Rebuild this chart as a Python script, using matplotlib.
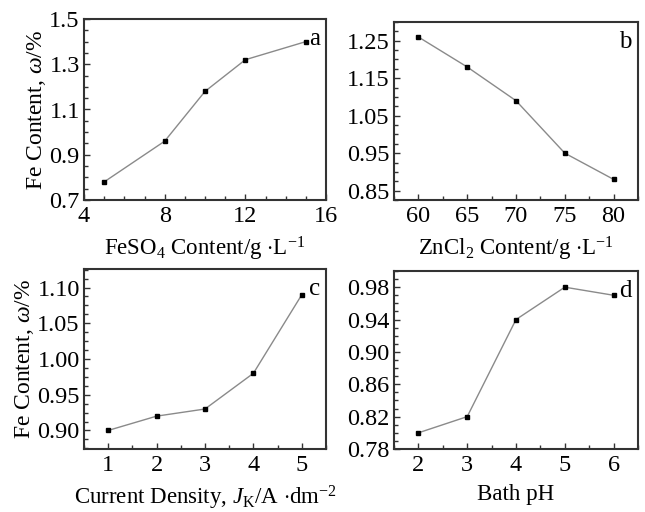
import matplotlib
matplotlib.use("Agg")
import matplotlib.pyplot as plt
from matplotlib.ticker import MultipleLocator

plt.rcParams['font.family'] = ['Liberation Serif', 'DejaVu Serif']
plt.rcParams['mathtext.fontset'] = 'custom'
plt.rcParams['mathtext.rm'] = 'Liberation Serif'
plt.rcParams['mathtext.it'] = 'Liberation Serif:italic'

# Data
feso4_x = [5, 8, 10, 12, 15]
feso4_y = [0.78, 0.96, 1.18, 1.32, 1.40]
zncl2_x = [60, 65, 70, 75, 80]
zncl2_y = [1.26, 1.18, 1.09, 0.95, 0.88]
cd_x = [1, 2, 3, 4, 5]
cd_y = [0.90, 0.92, 0.93, 0.98, 1.09]
ph_x = [2, 3, 4, 5, 6]
ph_y = [0.80, 0.82, 0.94, 0.98, 0.97]

W, H = 645, 512
fig = plt.figure(figsize=(6.45, 5.12), dpi=100)

def add_ax(l, t, r, b):
    return fig.add_axes([l / W, 1 - b / H, (r - l) / W, (b - t) / H])

ax_a = add_ax(84, 19, 326, 200)
ax_b = add_ax(394, 22, 638, 200)
ax_c = add_ax(84, 269, 326, 449)
ax_d = add_ax(394, 271, 638, 449)

panels = [
    (ax_a, feso4_x, feso4_y, (4, 16), (0.7, 1.5), [4, 8, 12, 16], 1, [0.7, 0.9, 1.1, 1.3, 1.5], 0.05, '%.1f', 'a'),
    (ax_b, zncl2_x, zncl2_y, (57.5, 82.5), (0.825, 1.3), [60, 65, 70, 75, 80], 2.5, [0.85, 0.95, 1.05, 1.15, 1.25], 0.025, '%.2f', 'b'),
    (ax_c, cd_x, cd_y, (0.5, 5.5), (0.874, 1.126), [1, 2, 3, 4, 5], 0.5, [0.90, 0.95, 1.00, 1.05, 1.10], 0.0125, '%.2f', 'c'),
    (ax_d, ph_x, ph_y, (1.5, 6.5), (0.78, 1.0), [2, 3, 4, 5, 6], 0.5, [0.78, 0.82, 0.86, 0.90, 0.94, 0.98], 0.01, '%.2f', 'd'),
]

for ax, x, y, xl, yl, xt, xm, yt, ym, fmt, lab in panels:
    ax.plot(x, y, color='#8a8a8a', lw=1.0, marker='s', ms=3.0,
            mfc='black', mec='black', zorder=3)
    ax.set_xlim(*xl)
    ax.set_ylim(*yl)
    ax.set_xticks(xt)
    ax.set_xticklabels([str(v) for v in xt])
    ax.set_yticks(yt)
    ax.set_yticklabels([fmt % v for v in yt])
    ax.xaxis.set_minor_locator(MultipleLocator(xm))
    ax.yaxis.set_minor_locator(MultipleLocator(ym))
    ax.tick_params(which='both', direction='in', labelsize=17.5,
                   width=1.0, color='#333333')
    ax.tick_params(which='major', length=4)
    ax.tick_params(which='minor', length=3)
    ax.tick_params(axis='y', which='major', pad=3)
    ax.tick_params(axis='x', which='major', pad=4)
    for s in ax.spines.values():
        s.set_linewidth(1.5)
        s.set_color('#333333')
    ax.text(0.975, 0.89, lab, transform=ax.transAxes, ha='right', va='center',
            fontsize=18)

ax_a.set_ylabel(r'Fe Content, $\mathit{\omega}$/%', fontsize=17, labelpad=1)
ax_c.set_ylabel(r'Fe Content, $\mathit{\omega}$/%', fontsize=17, labelpad=1)
ax_a.set_xlabel(r'FeSO$_4$ Content/g $\cdot$L$^{-1}$', fontsize=16.5, labelpad=6)
ax_b.set_xlabel(r'ZnCl$_2$ Content/g $\cdot$L$^{-1}$', fontsize=16.5, labelpad=6)
ax_c.set_xlabel(r'Current Density, $J_{\mathrm{K}}$/A $\cdot$dm$^{-2}$', fontsize=16.5, labelpad=6)
ax_d.set_xlabel('Bath pH', fontsize=16.5, labelpad=6)

fig.savefig('out.png', dpi=100)
